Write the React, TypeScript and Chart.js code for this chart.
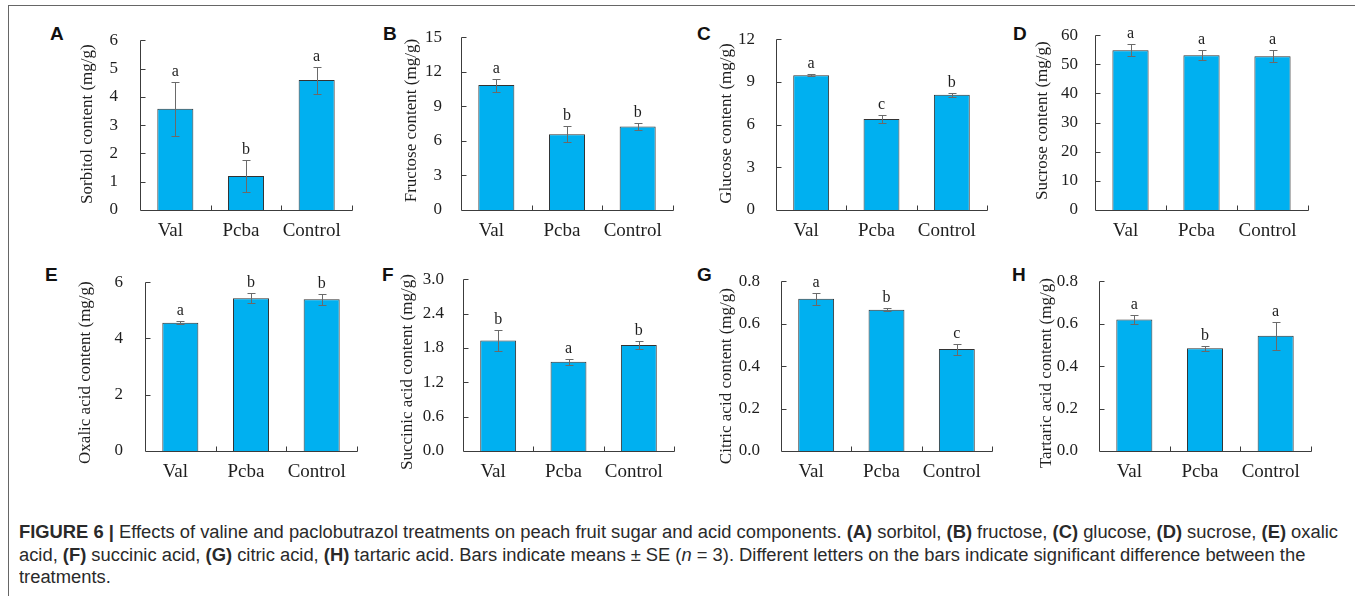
import React, { useEffect, useRef } from "react";
import { Chart, registerables } from "chart.js";

Chart.register(...registerables);

// ---------------- DATA ----------------
const categories = ["Val", "Pcba", "Control"];

const sorbitolMeans = [3.58, 1.2, 4.59];
const sorbitolSE = [0.95, 0.57, 0.48];
const sorbitolLetters = ["a", "b", "a"];

const fructoseMeans = [10.84, 6.57, 7.25];
const fructoseSE = [0.56, 0.69, 0.28];
const fructoseLetters = ["a", "b", "b"];

const glucoseMeans = [9.47, 6.39, 8.09];
const glucoseSE = [0.08, 0.31, 0.14];
const glucoseLetters = ["a", "c", "b"];

const sucroseMeans = [54.8, 53.1, 52.8];
const sucroseSE = [2.1, 1.7, 1.95];
const sucroseLetters = ["a", "a", "a"];

const oxalicMeans = [4.56, 5.43, 5.39];
const oxalicSE = [0.06, 0.17, 0.2];
const oxalicLetters = ["a", "b", "b"];

const succinicMeans = [1.93, 1.56, 1.85];
const succinicSE = [0.18, 0.055, 0.065];
const succinicLetters = ["b", "a", "b"];

const citricMeans = [0.717, 0.665, 0.48];
const citricSE = [0.028, 0.007, 0.026];
const citricLetters = ["a", "b", "c"];

const tartaricMeans = [0.62, 0.484, 0.543];
const tartaricSE = [0.02, 0.013, 0.066];
const tartaricLetters = ["a", "b", "a"];

const panelLetters = ["A", "B", "C", "D", "E", "F", "G", "H"];
const yTitles = [
  "Sorbitol content (mg/g)",
  "Fructose content (mg/g)",
  "Glucose content (mg/g)",
  "Sucrose content (mg/g)",
  "Oxalic acid content (mg/g)",
  "Succinic acid content (mg/g)",
  "Citric acid content (mg/g)",
  "Tartaric acid content (mg/g)",
];
const yMax = [6, 15, 12, 60, 6, 3, 0.8, 0.8];
const yStep = [1, 3, 3, 10, 2, 0.6, 0.2, 0.2];
const yDecimals = [0, 0, 0, 0, 0, 1, 1, 1];

const panelData = [
  { means: sorbitolMeans, se: sorbitolSE, letters: sorbitolLetters },
  { means: fructoseMeans, se: fructoseSE, letters: fructoseLetters },
  { means: glucoseMeans, se: glucoseSE, letters: glucoseLetters },
  { means: sucroseMeans, se: sucroseSE, letters: sucroseLetters },
  { means: oxalicMeans, se: oxalicSE, letters: oxalicLetters },
  { means: succinicMeans, se: succinicSE, letters: succinicLetters },
  { means: citricMeans, se: citricSE, letters: citricLetters },
  { means: tartaricMeans, se: tartaricSE, letters: tartaricLetters },
];

// ---------------- LAYOUT / STYLE ----------------
const layouts = [
  { letterX: 50, letterY: 24, titleX: 88, titleDy: -1, plotLeft: 140, plotRight: 352, plotTop: 32, plotBottom: 210, tickPad: 22 },
  { letterX: 383, letterY: 24, titleX: 412, titleDy: -3, plotLeft: 461, plotRight: 673, plotTop: 32, plotBottom: 210, tickPad: 19 },
  { letterX: 697, letterY: 24, titleX: 727, titleDy: -1, plotLeft: 776, plotRight: 987, plotTop: 32, plotBottom: 210, tickPad: 21 },
  { letterX: 1013, letterY: 24, titleX: 1043, titleDy: -2, plotLeft: 1095, plotRight: 1308, plotTop: 32, plotBottom: 210, tickPad: 17 },
  { letterX: 45, letterY: 265, titleX: 86, titleDy: 6, plotLeft: 145, plotRight: 357, plotTop: 274, plotBottom: 451, tickPad: 22 },
  { letterX: 382, letterY: 265, titleX: 408, titleDy: 7, plotLeft: 463, plotRight: 674, plotTop: 274, plotBottom: 451, tickPad: 19 },
  { letterX: 697, letterY: 265, titleX: 727, titleDy: 10, plotLeft: 781, plotRight: 992, plotTop: 274, plotBottom: 451, tickPad: 21 },
  { letterX: 1012, letterY: 265, titleX: 1047, titleDy: 7, plotLeft: 1099, plotRight: 1311, plotTop: 274, plotBottom: 451, tickPad: 21 },
];

const SERIF = "'Liberation Serif', 'Times New Roman', serif";
const SANS = "'Liberation Sans', Arial, sans-serif";
const TXT = "#1e1e1e";
const BAR = "#00B0F0";
const BAR_EDGE = "#333333";
const AXIS = "#3c3c3c";
const ERR = "#6a6a6a";
const PAD_TOP = 24;
const PAD_RIGHT = 6;
const XAXIS_H = 40;

const decorPlugin = {
  id: "decor",
  afterDatasetsDraw(chart: any, _args: any, opts: any) {
    const ctx = chart.ctx;
    const x = chart.scales.x;
    const y = chart.scales.y;
    const ca = chart.chartArea;
    const meta = chart.getDatasetMeta(0);
    const means: number[] = chart.data.datasets[0].data;
    ctx.save();
    // axes + inward ticks
    ctx.strokeStyle = AXIS;
    ctx.lineWidth = 1;
    ctx.beginPath();
    const L = Math.round(ca.left) + 0.5;
    const B = Math.round(ca.bottom) + 0.5;
    const T = Math.round(y.getPixelForValue(y.max)) + 0.5;
    ctx.moveTo(L, T);
    ctx.lineTo(L, B);
    ctx.lineTo(Math.round(ca.right) + 0.5, B);
    y.ticks.forEach((t: any) => {
      const py = Math.round(y.getPixelForValue(t.value)) + 0.5;
      if (t.value === 0) return;
      ctx.moveTo(L, py);
      ctx.lineTo(L + 5, py);
    });
    for (let i = 1; i <= categories.length; i++) {
      const px = Math.round(x.getPixelForValue(i - 0.5)) + 0.5;
      ctx.moveTo(px, B);
      ctx.lineTo(px, B - 5);
    }
    ctx.stroke();
    // error bars
    ctx.strokeStyle = ERR;
    ctx.beginPath();
    meta.data.forEach((bar: any, i: number) => {
      const cx = Math.round(bar.x) + 0.5;
      const top = Math.round(y.getPixelForValue(means[i] + opts.se[i])) + 0.5;
      const bot = Math.round(y.getPixelForValue(means[i] - opts.se[i])) + 0.5;
      ctx.moveTo(cx, top);
      ctx.lineTo(cx, bot);
      ctx.moveTo(cx - 4, top);
      ctx.lineTo(cx + 4, top);
      ctx.moveTo(cx - 4, bot);
      ctx.lineTo(cx + 4, bot);
    });
    ctx.stroke();
    // significance letters
    ctx.fillStyle = TXT;
    ctx.font = `16px ${SERIF}`;
    ctx.textAlign = "center";
    ctx.textBaseline = "alphabetic";
    meta.data.forEach((bar: any, i: number) => {
      const top = y.getPixelForValue(means[i] + opts.se[i]);
      ctx.fillText(opts.letters[i], bar.x, top - 6);
    });
    // y-axis title
    ctx.save();
    ctx.translate(opts.titleX, (ca.top + ca.bottom) / 2 + opts.titleDy);
    ctx.rotate(-Math.PI / 2);
    ctx.font = `17px ${SERIF}`;
    ctx.textAlign = "center";
    ctx.textBaseline = "middle";
    ctx.fillText(opts.title, 0, 0);
    ctx.restore();
    ctx.restore();
  },
};

function Panel({ idx }: { idx: number }) {
  const ref = useRef<HTMLCanvasElement>(null);
  const l = layouts[idx];
  const d = panelData[idx];
  const canvasLeft = Math.round(l.titleX - 14);
  const canvasTop = l.plotTop - PAD_TOP;
  const yAxisW = l.plotLeft - canvasLeft;
  const width = l.plotRight - canvasLeft + PAD_RIGHT;
  const height = PAD_TOP + (l.plotBottom - l.plotTop) + XAXIS_H;

  useEffect(() => {
    if (!ref.current) return;
    const chart = new Chart(ref.current, {
      type: "bar",
      data: {
        labels: categories,
        datasets: [
          {
            data: d.means,
            backgroundColor: BAR,
            borderColor: BAR_EDGE,
            borderWidth: 1,
            categoryPercentage: 1,
            barPercentage: 0.51,
          },
        ],
      },
      options: {
        responsive: false,
        maintainAspectRatio: false,
        animation: false,
        devicePixelRatio: 1,
        layout: { padding: { top: PAD_TOP, right: PAD_RIGHT, left: 0, bottom: 0 } },
        plugins: {
          legend: { display: false },
          tooltip: { enabled: false },
          decor: {
            se: d.se,
            letters: d.letters,
            title: yTitles[idx],
            titleX: l.titleX - canvasLeft,
            titleDy: l.titleDy,
          },
        } as any,
        scales: {
          x: {
            grid: { display: false, drawTicks: false },
            border: { display: false },
            ticks: {
              font: { family: SERIF, size: 19 },
              color: TXT,
              padding: 10,
              labelOffset: -5,
              maxRotation: 0,
              autoSkip: false,
            },
            afterFit: (s: any) => {
              s.height = XAXIS_H;
            },
          },
          y: {
            min: 0,
            max: yMax[idx],
            grid: { display: false, drawTicks: false },
            border: { display: false },
            ticks: {
              stepSize: yStep[idx],
              font: { family: SERIF, size: 17 },
              color: TXT,
              padding: l.tickPad,
              callback: (v: any) => Number(v).toFixed(yDecimals[idx]),
            },
            afterFit: (s: any) => {
              s.width = yAxisW;
            },
          },
        },
      } as any,
      plugins: [decorPlugin as any],
    });
    return () => chart.destroy();
  }, []);

  return (
    <>
      <canvas
        ref={ref}
        width={width}
        height={height}
        style={{ position: "absolute", left: canvasLeft, top: canvasTop, width, height }}
      />
      <div
        style={{
          position: "absolute",
          left: l.letterX,
          top: l.letterY,
          font: `bold 19px ${SANS}`,
          lineHeight: "19px",
          color: "#111",
        }}
      >
        {panelLetters[idx]}
      </div>
    </>
  );
}

type Seg = [string, string];
const captionLines: Seg[][] = [
  [
    ["b", "FIGURE 6 |"],
    ["t", " Effects of valine and paclobutrazol treatments on peach fruit sugar and acid components. "],
    ["b", "(A)"],
    ["t", " sorbitol, "],
    ["b", "(B)"],
    ["t", " fructose, "],
    ["b", "(C)"],
    ["t", " glucose, "],
    ["b", "(D)"],
    ["t", " sucrose, "],
    ["b", "(E)"],
    ["t", " oxalic"],
  ],
  [
    ["t", "acid, "],
    ["b", "(F)"],
    ["t", " succinic acid, "],
    ["b", "(G)"],
    ["t", " citric acid, "],
    ["b", "(H)"],
    ["t", " tartaric acid. Bars indicate means \u00B1 SE ("],
    ["i", "n"],
    ["t", " = 3). Different letters on the bars indicate significant difference between the"],
  ],
  [["t", "treatments."]],
];

function Caption() {
  const refs = useRef<(HTMLSpanElement | null)[]>([]);
  useEffect(() => {
    const first = refs.current[0];
    if (!first) return;
    const w = first.getBoundingClientRect().width;
    const scale = w > 0 ? 1319 / w : 1;
    refs.current.forEach((el) => {
      if (el) {
        el.style.transform = `scaleX(${scale})`;
      }
    });
  }, []);
  return (
    <div
      style={{
        position: "absolute",
        left: 19,
        top: 521,
        font: `18px 'Liberation Sans Narrow', ${SANS}`,
        lineHeight: "22.5px",
        color: "#2a2a2a",
      }}
    >
      {captionLines.map((line, li) => (
        <div key={li} style={{ whiteSpace: "nowrap", height: 22.5 }}>
          <span
            ref={(el) => {
              refs.current[li] = el;
            }}
            style={{ display: "inline-block", transformOrigin: "0 0" }}
          >
            {line.map(([k, t], si) =>
              k === "b" ? (
                <b key={si}>{t}</b>
              ) : k === "i" ? (
                <i key={si}>{t}</i>
              ) : (
                <span key={si}>{t}</span>
              )
            )}
          </span>
        </div>
      ))}
    </div>
  );
}

export default function App() {
  return (
    <div
      style={{
        position: "absolute",
        left: 0,
        top: 0,
        width: 1355,
        height: 596,
        background: "#fff",
        overflow: "hidden",
      }}
    >
      <div style={{ position: "absolute", left: 8, top: 5, width: 1347, height: 1, background: "#666" }} />
      <div style={{ position: "absolute", left: 8, top: 5, width: 1, height: 591, background: "#666" }} />
      {layouts.map((_, i) => (
        <Panel key={i} idx={i} />
      ))}
      <Caption />
    </div>
  );
}
